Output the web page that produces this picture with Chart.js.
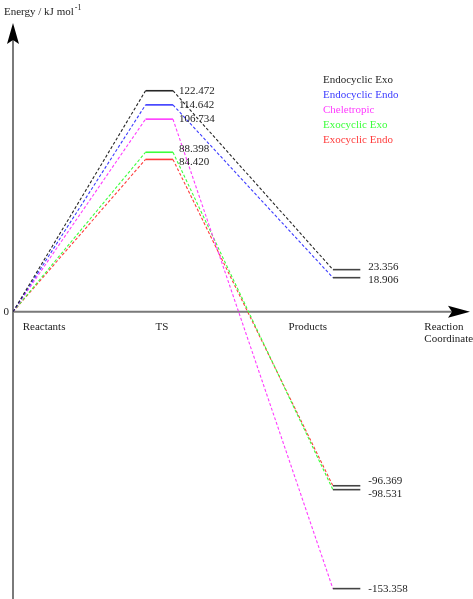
<!DOCTYPE html>
<html>
<head>
<meta charset="utf-8">
<script src="https://cdn.jsdelivr.net/npm/chart.js@4/dist/chart.umd.min.js"></script>
<style>
  body { margin: 0; background: #fff; }
  canvas { display: block; }
</style>
</head>
<body>
<canvas id="grafico" width="473" height="599"></canvas>
<script>
// Dados do diagrama de energia (kJ/mol)
const caminhos = ['Endocyclic Exo', 'Endocyclic Endo', 'Cheletropic', 'Exocyclic Exo', 'Exocyclic Endo'];
const energiaReagentes = [0, 0, 0, 0, 0];
const energiaTS = [122.472, 114.642, 106.734, 88.398, 84.420];
const energiaProdutos = [23.356, 18.906, -153.358, -98.531, -96.369];
const etapas = ['Reactants', 'TS', 'Products'];
const tituloEixoY = 'Energy / kJ mol';
const tituloEixoX = ['Reaction', 'Coordinate'];

// Estilo
const cores = ['#262626', '#3b3bff', '#ff3bff', '#3bff3b', '#ff3b3b'];
const corNivelProduto = '#444';
const corEixo = '#7a7a7a';
const fonte = '"Liberation Serif", "DejaVu Serif", serif';

// Posições na coordenada de reação (unidades do eixo x)
const posX = { reagente: 0, tsIni: 2.9, tsFim: 3.5, prodIni: 7.0, prodFim: 7.6 };
const posRotuloEtapa = [0.68, 3.26, 6.45];
const posRotuloEixoX = 9.0;

const datasets = caminhos.map((nome, i) => ({
  label: nome,
  data: [
    { x: posX.reagente, y: energiaReagentes[i] },
    { x: posX.tsIni, y: energiaTS[i] },
    { x: posX.tsFim, y: energiaTS[i] },
    { x: posX.prodIni, y: energiaProdutos[i] },
    { x: posX.prodFim, y: energiaProdutos[i] }
  ],
  borderColor: cores[i],
  borderWidth: 1.1,
  pointRadius: 0,
  fill: false,
  tension: 0,
  segment: {
    borderDash: (ctx) => (ctx.p0DataIndex === 1 || ctx.p0DataIndex === 3) ? [] : [3, 2],
    borderWidth: (ctx) => (ctx.p0DataIndex === 1 || ctx.p0DataIndex === 3) ? 1.6 : 1.1,
    borderColor: (ctx) => ctx.p0DataIndex === 3 ? corNivelProduto : undefined
  }
}));

// Afasta rótulos que ficariam sobrepostos
const espalhar = (itens, gap) => {
  const ord = [...itens].sort((a, b) => a.y - b.y);
  for (let k = 0; k < 30; k++) {
    for (let j = 1; j < ord.length; j++) {
      const d = ord[j].y - ord[j - 1].y;
      if (d < gap) {
        const m = (gap - d) / 2;
        ord[j - 1].y -= m;
        ord[j].y += m;
      }
    }
  }
  return itens;
};

const desenhoEixos = {
  id: 'desenhoEixos',
  beforeDatasetsDraw(chart) {
    const { ctx, chartArea, scales } = chart;
    const y0 = scales.y.getPixelForValue(0);
    const x0 = scales.x.getPixelForValue(posX.reagente);
    ctx.save();
    ctx.strokeStyle = corEixo;
    ctx.lineWidth = 2;
    ctx.beginPath();
    ctx.moveTo(x0, chartArea.bottom + 2);
    ctx.lineTo(x0, chartArea.top + 15);
    ctx.moveTo(x0, y0);
    ctx.lineTo(chartArea.right - 15, y0);
    ctx.stroke();
    // setas
    ctx.fillStyle = '#000';
    ctx.beginPath();
    ctx.moveTo(x0, chartArea.top);
    ctx.lineTo(x0 - 6, chartArea.top + 21);
    ctx.lineTo(x0, chartArea.top + 17);
    ctx.lineTo(x0 + 6, chartArea.top + 21);
    ctx.closePath();
    ctx.fill();
    ctx.beginPath();
    ctx.moveTo(chartArea.right, y0);
    ctx.lineTo(chartArea.right - 22, y0 - 6);
    ctx.lineTo(chartArea.right - 18, y0);
    ctx.lineTo(chartArea.right - 22, y0 + 6);
    ctx.closePath();
    ctx.fill();
    ctx.restore();
  },
  afterDraw(chart) {
    const { ctx, chartArea, scales } = chart;
    const y0 = scales.y.getPixelForValue(0);
    ctx.save();
    ctx.font = '11px ' + fonte;
    ctx.textBaseline = 'middle';

    // título do eixo y
    ctx.fillStyle = '#222';
    ctx.textAlign = 'left';
    ctx.fillText(tituloEixoY, 4, 12);
    const w = ctx.measureText(tituloEixoY).width;
    ctx.font = '8px ' + fonte;
    ctx.fillText('-1', 4 + w + 1, 8);
    ctx.font = '11px ' + fonte;

    // zero
    ctx.textAlign = 'right';
    ctx.fillText('0', chartArea.left - 4, y0);

    // etapas
    ctx.textAlign = 'center';
    etapas.forEach((t, i) => {
      ctx.fillText(t, scales.x.getPixelForValue(posRotuloEtapa[i]), y0 + 15);
    });
    ctx.textAlign = 'left';
    tituloEixoX.forEach((t, i) => {
      ctx.fillText(t, scales.x.getPixelForValue(posRotuloEixoX), y0 + 15 + i * 12);
    });

    // valores de energia
    const rotTS = espalhar(energiaTS.map((v, i) => ({ v, i, y: scales.y.getPixelForValue(v) })), 13);
    const rotProd = espalhar(energiaProdutos.map((v, i) => ({ v, i, y: scales.y.getPixelForValue(v) })), 13);
    ctx.fillStyle = '#222';
    rotTS.forEach((r) => ctx.fillText(r.v.toFixed(3), scales.x.getPixelForValue(posX.tsFim) + 6, r.y));
    rotProd.forEach((r) => ctx.fillText(r.v.toFixed(3), scales.x.getPixelForValue(posX.prodFim) + 8, r.y));

    // legenda
    caminhos.forEach((nome, i) => {
      ctx.fillStyle = cores[i];
      ctx.fillText(nome, 323, 80 + i * 15);
    });
    ctx.restore();
  }
};

const chart = new Chart(document.getElementById('grafico').getContext('2d'), {
  type: 'line',
  data: { datasets },
  options: {
    responsive: false,
    animation: false,
    devicePixelRatio: 1,
    layout: { padding: { left: 13, right: 3, top: 23, bottom: 2 } },
    plugins: { legend: { display: false }, tooltip: { enabled: false } },
    scales: {
      x: { type: 'linear', min: 0, max: 10, display: false },
      y: { type: 'linear', min: -158, max: 160, display: false }
    }
  },
  plugins: [desenhoEixos]
});
</script>
</body>
</html>
